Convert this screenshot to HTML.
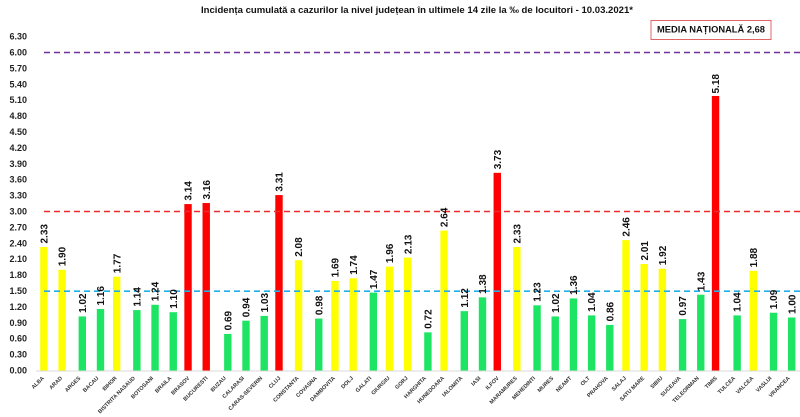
<!DOCTYPE html>
<html><head><meta charset="utf-8"><style>
html,body{margin:0;padding:0;background:#fff;}
svg{display:block;}
.v{font-family:"Liberation Sans",Arial,sans-serif;font-weight:bold;font-size:10px;fill:#111;}
.c{font-family:"Liberation Sans",Arial,sans-serif;font-weight:bold;font-size:5.5px;fill:#333;text-anchor:end;}
.y{font-family:"Liberation Sans",Arial,sans-serif;font-weight:bold;font-size:9px;fill:#222;text-anchor:end;}
</style></head><body>
<svg width="800" height="417" viewBox="0 0 800 417" xmlns="http://www.w3.org/2000/svg">
<rect width="800" height="417" fill="#fff"/>
<text x="201" y="13" textLength="432" lengthAdjust="spacingAndGlyphs" font-family="Liberation Sans, Arial, sans-serif" font-weight="bold" font-size="9.5" fill="#111">Incidența cumulată a cazurilor la nivel județean în ultimele 14 zile la ‰ de locuitori - 10.03.2021*</text>
<rect x="651" y="20.5" width="120" height="19" fill="#fff" stroke="#e06666" stroke-width="1"/>
<text x="657" y="32.5" textLength="108" lengthAdjust="spacingAndGlyphs" font-family="Liberation Sans, Arial, sans-serif" font-weight="bold" font-size="9" fill="#111">MEDIA NAȚIONALĂ  2,68</text>

<g class="y">
<text x="27" y="373.5">0.00</text><text x="27" y="357.6">0.30</text><text x="27" y="341.7">0.60</text><text x="27" y="325.8">0.90</text>
<text x="27" y="309.9">1.20</text><text x="27" y="294">1.50</text><text x="27" y="278.1">1.80</text><text x="27" y="262.2">2.10</text>
<text x="27" y="246.3">2.40</text><text x="27" y="230.4">2.70</text><text x="27" y="214.5">3.00</text><text x="27" y="198.6">3.30</text>
<text x="27" y="182.7">3.60</text><text x="27" y="166.8">3.90</text><text x="27" y="150.9">4.20</text><text x="27" y="135">4.50</text>
<text x="27" y="119.1">4.80</text><text x="27" y="103.2">5.10</text><text x="27" y="87.3">5.40</text><text x="27" y="71.4">5.70</text>
<text x="27" y="55.5">6.00</text><text x="27" y="39.6">6.30</text>
</g>

<line x1="36" y1="371" x2="800" y2="371" stroke="#d9d9d9" stroke-width="1"/>

<g>
<rect x="40.22" y="247.01" width="7.4" height="123.49" fill="#ffff00"/>
<rect x="58.41" y="269.8" width="7.4" height="100.7" fill="#ffff00"/>
<rect x="78.6" y="316.44" width="7.4" height="54.06" fill="#1ee464"/>
<rect x="96.79" y="309.02" width="7.4" height="61.48" fill="#1ee464"/>
<rect x="112.98" y="276.69" width="7.4" height="93.81" fill="#ffff00"/>
<rect x="133.17" y="310.08" width="7.4" height="60.42" fill="#1ee464"/>
<rect x="151.36" y="304.78" width="7.4" height="65.72" fill="#1ee464"/>
<rect x="169.55" y="312.2" width="7.4" height="58.3" fill="#1ee464"/>
<rect x="184.34" y="204.08" width="7.4" height="166.42" fill="#ff0000"/>
<rect x="202.53" y="203.02" width="7.4" height="167.48" fill="#ff0000"/>
<rect x="224.12" y="333.93" width="7.4" height="36.57" fill="#1ee464"/>
<rect x="242.31" y="320.68" width="7.4" height="49.82" fill="#1ee464"/>
<rect x="260.5" y="315.91" width="7.4" height="54.59" fill="#1ee464"/>
<rect x="275.29" y="195.07" width="7.4" height="175.43" fill="#ff0000"/>
<rect x="294.88" y="260.26" width="7.4" height="110.24" fill="#ffff00"/>
<rect x="315.07" y="318.56" width="7.4" height="51.94" fill="#1ee464"/>
<rect x="331.26" y="280.93" width="7.4" height="89.57" fill="#ffff00"/>
<rect x="349.45" y="278.28" width="7.4" height="92.22" fill="#ffff00"/>
<rect x="369.64" y="292.59" width="7.4" height="77.91" fill="#1ee464"/>
<rect x="385.83" y="266.62" width="7.4" height="103.88" fill="#ffff00"/>
<rect x="404.02" y="257.61" width="7.4" height="112.89" fill="#ffff00"/>
<rect x="424.21" y="332.34" width="7.4" height="38.16" fill="#1ee464"/>
<rect x="440.4" y="230.58" width="7.4" height="139.92" fill="#ffff00"/>
<rect x="460.59" y="311.14" width="7.4" height="59.36" fill="#1ee464"/>
<rect x="478.78" y="297.36" width="7.4" height="73.14" fill="#1ee464"/>
<rect x="493.57" y="172.81" width="7.4" height="197.69" fill="#ff0000"/>
<rect x="513.16" y="247.01" width="7.4" height="123.49" fill="#ffff00"/>
<rect x="533.35" y="305.31" width="7.4" height="65.19" fill="#1ee464"/>
<rect x="551.54" y="316.44" width="7.4" height="54.06" fill="#1ee464"/>
<rect x="569.73" y="298.42" width="7.4" height="72.08" fill="#1ee464"/>
<rect x="587.92" y="315.38" width="7.4" height="55.12" fill="#1ee464"/>
<rect x="606.11" y="324.92" width="7.4" height="45.58" fill="#1ee464"/>
<rect x="622.3" y="240.12" width="7.4" height="130.38" fill="#ffff00"/>
<rect x="640.49" y="263.97" width="7.4" height="106.53" fill="#ffff00"/>
<rect x="658.68" y="268.74" width="7.4" height="101.76" fill="#ffff00"/>
<rect x="678.87" y="319.09" width="7.4" height="51.41" fill="#1ee464"/>
<rect x="697.06" y="294.71" width="7.4" height="75.79" fill="#1ee464"/>
<rect x="711.85" y="95.96" width="7.4" height="274.54" fill="#ff0000"/>
<rect x="733.44" y="315.38" width="7.4" height="55.12" fill="#1ee464"/>
<rect x="749.63" y="270.86" width="7.4" height="99.64" fill="#ffff00"/>
<rect x="769.82" y="312.73" width="7.4" height="57.77" fill="#1ee464"/>
<rect x="788.01" y="317.5" width="7.4" height="53" fill="#1ee464"/>
</g>

<line x1="44" y1="52.5" x2="800" y2="52.5" stroke="#7030a0" stroke-width="1.6" stroke-dasharray="6 4"/>
<line x1="44" y1="211.5" x2="800" y2="211.5" stroke="#ee2a2a" stroke-width="1.6" stroke-dasharray="6 4"/>
<line x1="44" y1="291.2" x2="800" y2="291.2" stroke="#1eb0e6" stroke-width="1.6" stroke-dasharray="6 4"/>

<g class="v">
<text transform="translate(47.52,243.5) rotate(-90)">2.33</text>
<text transform="translate(65.71,266.3) rotate(-90)">1.90</text>
<text transform="translate(85.9,312.9) rotate(-90)">1.02</text>
<text transform="translate(104.09,305.5) rotate(-90)">1.16</text>
<text transform="translate(120.28,273.2) rotate(-90)">1.77</text>
<text transform="translate(140.47,306.6) rotate(-90)">1.14</text>
<text transform="translate(158.66,301.3) rotate(-90)">1.24</text>
<text transform="translate(176.85,308.7) rotate(-90)">1.10</text>
<text transform="translate(191.64,200.6) rotate(-90)">3.14</text>
<text transform="translate(209.83,199.5) rotate(-90)">3.16</text>
<text transform="translate(231.42,330.4) rotate(-90)">0.69</text>
<text transform="translate(249.61,317.2) rotate(-90)">0.94</text>
<text transform="translate(267.8,312.4) rotate(-90)">1.03</text>
<text transform="translate(282.59,191.6) rotate(-90)">3.31</text>
<text transform="translate(302.18,256.8) rotate(-90)">2.08</text>
<text transform="translate(322.37,315.1) rotate(-90)">0.98</text>
<text transform="translate(338.56,277.4) rotate(-90)">1.69</text>
<text transform="translate(356.75,274.8) rotate(-90)">1.74</text>
<text transform="translate(376.94,289.1) rotate(-90)">1.47</text>
<text transform="translate(393.13,263.1) rotate(-90)">1.96</text>
<text transform="translate(411.32,254.1) rotate(-90)">2.13</text>
<text transform="translate(431.51,328.8) rotate(-90)">0.72</text>
<text transform="translate(447.7,227.1) rotate(-90)">2.64</text>
<text transform="translate(467.89,307.6) rotate(-90)">1.12</text>
<text transform="translate(486.08,293.9) rotate(-90)">1.38</text>
<text transform="translate(500.87,169.3) rotate(-90)">3.73</text>
<text transform="translate(520.46,243.5) rotate(-90)">2.33</text>
<text transform="translate(540.65,301.8) rotate(-90)">1.23</text>
<text transform="translate(558.84,312.9) rotate(-90)">1.02</text>
<text transform="translate(577.03,294.9) rotate(-90)">1.36</text>
<text transform="translate(595.22,311.9) rotate(-90)">1.04</text>
<text transform="translate(613.41,321.4) rotate(-90)">0.86</text>
<text transform="translate(629.6,236.6) rotate(-90)">2.46</text>
<text transform="translate(647.79,260.5) rotate(-90)">2.01</text>
<text transform="translate(665.98,265.2) rotate(-90)">1.92</text>
<text transform="translate(686.17,315.6) rotate(-90)">0.97</text>
<text transform="translate(704.36,291.2) rotate(-90)">1.43</text>
<text transform="translate(719.15,93.5) rotate(-90)">5.18</text>
<text transform="translate(740.74,311.9) rotate(-90)">1.04</text>
<text transform="translate(756.93,267.4) rotate(-90)">1.88</text>
<text transform="translate(777.12,309.2) rotate(-90)">1.09</text>
<text transform="translate(795.31,314) rotate(-90)">1.00</text>
</g>

<g class="c">
<text transform="translate(44.4,378.5) rotate(-45)">ALBA</text>
<text transform="translate(62.6,378.5) rotate(-45)">ARAD</text>
<text transform="translate(80.8,378.5) rotate(-45)">ARGES</text>
<text transform="translate(99,378.5) rotate(-45)">BACAU</text>
<text transform="translate(117.2,378.5) rotate(-45)">BIHOR</text>
<text transform="translate(135.4,378.5) rotate(-45)">BISTRITA NASAUD</text>
<text transform="translate(153.6,378.5) rotate(-45)">BOTOSANI</text>
<text transform="translate(171.8,378.5) rotate(-45)">BRAILA</text>
<text transform="translate(189.9,378.5) rotate(-45)">BRASOV</text>
<text transform="translate(208.1,378.5) rotate(-45)">BUCURESTI</text>
<text transform="translate(226.3,378.5) rotate(-45)">BUZAU</text>
<text transform="translate(244.5,378.5) rotate(-45)">CALARASI</text>
<text transform="translate(262.7,378.5) rotate(-45)">CARAS-SEVERIN</text>
<text transform="translate(280.9,378.5) rotate(-45)">CLUJ</text>
<text transform="translate(299.1,378.5) rotate(-45)">CONSTANTA</text>
<text transform="translate(317.3,378.5) rotate(-45)">COVASNA</text>
<text transform="translate(335.5,378.5) rotate(-45)">DAMBOVITA</text>
<text transform="translate(353.6,378.5) rotate(-45)">DOLJ</text>
<text transform="translate(371.8,378.5) rotate(-45)">GALATI</text>
<text transform="translate(390,378.5) rotate(-45)">GIURGIU</text>
<text transform="translate(408.2,378.5) rotate(-45)">GORJ</text>
<text transform="translate(426.4,378.5) rotate(-45)">HARGHITA</text>
<text transform="translate(444.6,378.5) rotate(-45)">HUNEDOARA</text>
<text transform="translate(462.8,378.5) rotate(-45)">IALOMITA</text>
<text transform="translate(481,378.5) rotate(-45)">IASI</text>
<text transform="translate(499.2,378.5) rotate(-45)">ILFOV</text>
<text transform="translate(517.4,378.5) rotate(-45)">MARAMURES</text>
<text transform="translate(535.6,378.5) rotate(-45)">MEHEDINTI</text>
<text transform="translate(553.7,378.5) rotate(-45)">MURES</text>
<text transform="translate(571.9,378.5) rotate(-45)">NEAMT</text>
<text transform="translate(590.1,378.5) rotate(-45)">OLT</text>
<text transform="translate(608.3,378.5) rotate(-45)">PRAHOVA</text>
<text transform="translate(626.5,378.5) rotate(-45)">SALAJ</text>
<text transform="translate(644.7,378.5) rotate(-45)">SATU MARE</text>
<text transform="translate(662.9,378.5) rotate(-45)">SIBIU</text>
<text transform="translate(681.1,378.5) rotate(-45)">SUCEAVA</text>
<text transform="translate(699.3,378.5) rotate(-45)">TELEORMAN</text>
<text transform="translate(717.4,378.5) rotate(-45)">TIMIS</text>
<text transform="translate(735.6,378.5) rotate(-45)">TULCEA</text>
<text transform="translate(753.8,378.5) rotate(-45)">VALCEA</text>
<text transform="translate(772,378.5) rotate(-45)">VASLUI</text>
<text transform="translate(790.2,378.5) rotate(-45)">VRANCEA</text>
</g>
</svg>
</body></html>
